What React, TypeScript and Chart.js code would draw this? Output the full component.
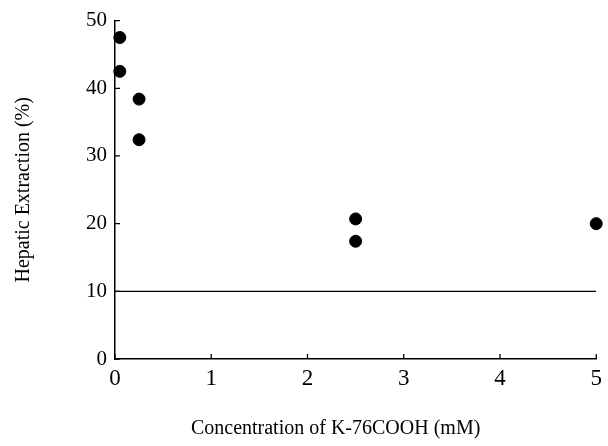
import React, { useEffect, useRef } from "react";
import { Chart, registerables } from "chart.js";

Chart.register(...registerables);

const concentrations = [0.05, 0.05, 0.25, 0.25, 2.5, 2.5, 5];
const extraction = [47.5, 42.5, 38.4, 32.4, 20.7, 17.4, 20.0];
const baselineX = [0, 5];
const baselineY = [10, 10];
const xTicks = [0, 1, 2, 3, 4, 5];
const yTicks = [0, 10, 20, 30, 40, 50];
const xTitle = "Concentration of K-76COOH (mM)";
const yTitle = "Hepatic Extraction (%)";

const FONT = '"Liberation Serif", "Times New Roman", serif';

const inwardTicks = {
  id: "inwardTicks",
  afterDatasetsDraw(chart: any) {
    const ctx = chart.ctx;
    const xs = chart.scales.x;
    const ys = chart.scales.y;
    const area = chart.chartArea;
    ctx.save();
    ctx.strokeStyle = "#000";
    ctx.lineWidth = 1.3;
    ctx.beginPath();
    xTicks.forEach((v) => {
      const px = xs.getPixelForValue(v);
      ctx.moveTo(px, area.bottom);
      ctx.lineTo(px, area.bottom - 5);
    });
    yTicks.forEach((v) => {
      const py = ys.getPixelForValue(v);
      ctx.moveTo(area.left, py);
      ctx.lineTo(area.left + 5, py);
    });
    ctx.stroke();
    // x axis title
    ctx.fillStyle = "#000";
    ctx.font = `20px ${FONT}`;
    ctx.textAlign = "center";
    ctx.textBaseline = "alphabetic";
    ctx.fillText(xTitle, (area.left + area.right) / 2 - 20, area.bottom + 75);
    ctx.restore();
  },
};

export default function App() {
  const ref = useRef<HTMLCanvasElement | null>(null);
  useEffect(() => {
    if (!ref.current) return;
    const chart = new Chart(ref.current, {
      type: "scatter",
      data: {
        datasets: [
          {
            type: "scatter",
            data: concentrations.map((x, i) => ({ x, y: extraction[i] })),
            backgroundColor: "#000",
            borderColor: "#000",
            pointRadius: 6,
            pointHoverRadius: 6,
            clip: false as any,
          },
          {
            type: "line",
            data: baselineX.map((x, i) => ({ x, y: baselineY[i] })),
            borderColor: "#000",
            borderWidth: 1.3,
            pointRadius: 0,
            fill: false,
          } as any,
        ],
      },
      options: {
        responsive: false,
        animation: false,
        layout: { padding: { top: 19, right: 8, left: 0, bottom: 0 } },
        plugins: {
          legend: { display: false },
          tooltip: { enabled: false },
        },
        scales: {
          x: {
            type: "linear",
            min: 0,
            max: 5,
            afterFit: (s: any) => {
              s.height = 87;
            },
            afterBuildTicks: (s: any) => {
              s.ticks = xTicks.map((v) => ({ value: v }));
            },
            grid: { display: false, drawTicks: false },
            border: { display: true, color: "#000", width: 1.5 },
            ticks: {
              color: "#000",
              font: { family: FONT, size: 23 },
              padding: 6,
              maxRotation: 0,
            },
          },
          y: {
            type: "linear",
            min: 0,
            max: 50,
            afterFit: (s: any) => {
              s.width = 115;
            },
            afterBuildTicks: (s: any) => {
              s.ticks = yTicks.map((v) => ({ value: v }));
            },
            grid: { display: false, drawTicks: false },
            border: { display: true, color: "#000", width: 1.5 },
            ticks: {
              color: "#000",
              font: { family: FONT, size: 21 },
              padding: 8,
            },
            title: {
              display: true,
              text: yTitle,
              color: "#000",
              font: { family: FONT, size: 20 },
              padding: { top: 12, bottom: 0 },
            },
          },
        },
      },
      plugins: [inwardTicks],
    });
    return () => chart.destroy();
  }, []);
  return (
    <div style={{ position: "fixed", left: 0, top: 0, width: 608, height: 446, background: "#fff" }}>
      <canvas ref={ref} width={608} height={446} />
    </div>
  );
}
